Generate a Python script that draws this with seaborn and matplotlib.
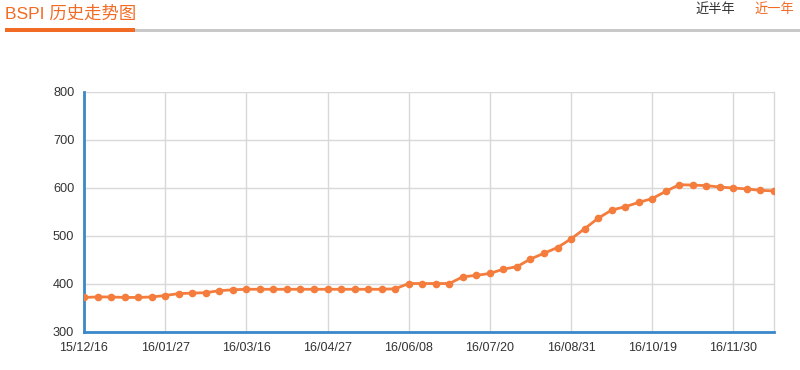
import matplotlib
matplotlib.use("Agg")
import matplotlib.pyplot as plt
import seaborn as sns
import pandas as pd
from matplotlib.patches import Rectangle

dates = ["15/12/16", "15/12/23", "15/12/30", "16/01/06", "16/01/13", "16/01/20",
         "16/01/27", "16/02/03", "16/02/17", "16/02/24", "16/03/02", "16/03/09",
         "16/03/16", "16/03/23", "16/03/30", "16/04/06", "16/04/13", "16/04/20",
         "16/04/27", "16/05/04", "16/05/11", "16/05/18", "16/05/25", "16/06/01",
         "16/06/08", "16/06/15", "16/06/22", "16/06/29", "16/07/06", "16/07/13",
         "16/07/20", "16/07/27", "16/08/03", "16/08/10", "16/08/17", "16/08/24",
         "16/08/31", "16/09/07", "16/09/14", "16/09/21", "16/09/28", "16/10/12",
         "16/10/19", "16/10/26", "16/11/02", "16/11/09", "16/11/16", "16/11/23",
         "16/11/30", "16/12/07", "16/12/14", "16/12/21"]
bspi = [372, 373, 373, 372, 372, 373, 376, 380, 381, 382, 386, 388,
        389, 389, 389, 389, 389, 389, 389, 389, 389, 389, 389, 390,
        401, 401, 401, 401, 415, 418, 422, 431, 436, 452, 464, 476,
        494, 515, 537, 554, 561, 570, 578, 593, 607, 606, 605, 602,
        600, 598, 595, 594]
y_ticks = [300, 400, 500, 600, 700, 800]
title = "BSPI 历史走势图"
opt_half = "近半年"
opt_year = "近一年"

sns.set_theme(style="white")
plt.rcParams['font.family'] = ['Liberation Sans', 'Noto Sans CJK SC', 'DejaVu Sans']

df = pd.DataFrame({"idx": range(len(bspi)), "date": dates, "value": bspi})

fig = plt.figure(figsize=(8, 3.7), dpi=100)
ax = fig.add_axes([84/800, 1-332/370, (774-84)/800, (332-92)/370])

orange = "#f47c3c"
blue = "#3b87c9"
sns.lineplot(data=df, x="idx", y="value", ax=ax, color=orange, linewidth=2,
             marker="o", markersize=5.5, markeredgewidth=0, zorder=3)

ax.set_xlim(0, len(bspi) - 1)
ax.set_ylim(300, 800)
ax.set_yticks(y_ticks)
ax.set_yticklabels([str(v) for v in y_ticks], fontsize=9.2, color="#333333")
ticks = list(range(0, len(bspi), 6))
ax.set_xticks(ticks)
ax.set_xticklabels([dates[i] for i in ticks], fontsize=9, color="#333333")
ax.set_xlabel("")
ax.set_ylabel("")

ax.grid(True, color="#d8d8d8", linewidth=1)
ax.set_axisbelow(True)
ax.spines["top"].set_visible(False)
ax.spines["right"].set_visible(True)
ax.spines["right"].set_color("#d8d8d8")
ax.spines["right"].set_linewidth(1)
for s in ["left", "bottom"]:
    ax.spines[s].set_color(blue)
    ax.spines[s].set_linewidth(2)
ax.tick_params(axis="x", direction="out", length=5, width=1, color=blue, pad=2)
ax.tick_params(axis="y", length=0, pad=7)

# header
fig.text(5/800, 1-14/370, title, fontsize=12.5, color="#f26b25",
         family=['Liberation Sans', 'Noto Sans CJK SC'], va="center", ha="left")
fig.patches.append(Rectangle((135/800, 1-31.5/370), 665/800, 2/370,
                             transform=fig.transFigure, color="#c8c8c8", lw=0))
fig.patches.append(Rectangle((5/800, 1-32/370), 130/800, 3.5/370,
                             transform=fig.transFigure, color="#f26b25", lw=0))
fig.text(735/800, 1-9/370, opt_half, fontsize=9.5, color="#333333",
         family=['Noto Sans CJK SC'], va="center", ha="right")
fig.text(794/800, 1-9/370, opt_year, fontsize=9.5, color="#f26b25",
         family=['Noto Sans CJK SC'], va="center", ha="right")

fig.savefig("out.png", dpi=100)
